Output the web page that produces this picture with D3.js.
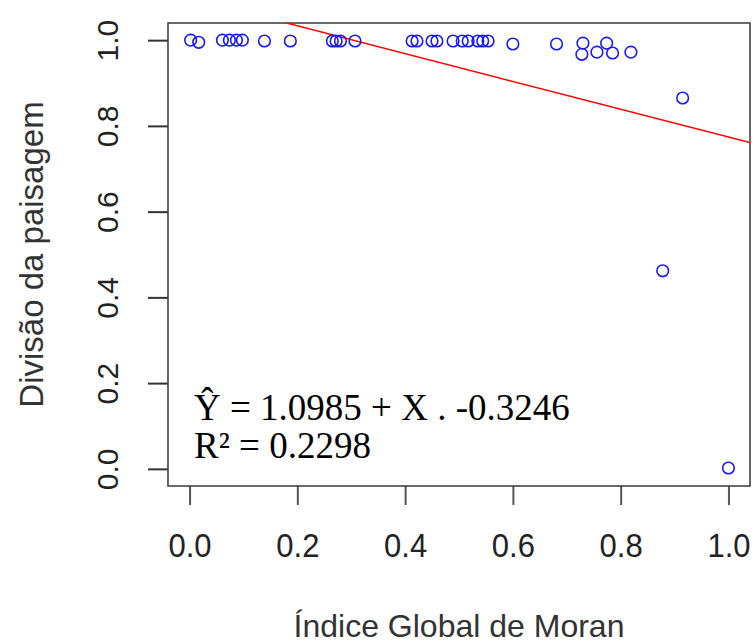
<!DOCTYPE html>
<html>
<head>
<meta charset="utf-8">
<script src="https://cdn.jsdelivr.net/npm/d3@7"></script>
<style>
html,body{margin:0;padding:0;background:#fff;}
svg{display:block;}
</style>
</head>
<body>
<svg id="chart" width="754" height="643"></svg>
<script>
// Índice Global de Moran (x) vs Divisão da paisagem (y)
const moranX = [0.002, 0.017, 0.061, 0.074, 0.087, 0.098, 0.139, 0.187, 0.265, 0.272, 0.280, 0.307,
  0.413, 0.422, 0.450, 0.459, 0.489, 0.506, 0.517, 0.535, 0.544, 0.554, 0.600, 0.681,
  0.730, 0.728, 0.756, 0.774, 0.785, 0.819, 0.915, 0.878, 1.000];
const divisaoY = [1.000, 0.995, 1.000, 1.000, 1.000, 1.000, 0.998, 0.998, 0.998, 0.998, 0.998, 0.998,
  0.998, 0.998, 0.998, 0.998, 0.998, 0.998, 0.998, 0.998, 0.998, 0.998, 0.991, 0.991,
  0.993, 0.967, 0.972, 0.993, 0.970, 0.972, 0.865, 0.462, 0.002];
const xTicks = [0.0, 0.2, 0.4, 0.6, 0.8, 1.0];
const yTicks = [0.0, 0.2, 0.4, 0.6, 0.8, 1.0];
const intercept = 1.0985;
const slope = -0.3246;
const eqText = "Ŷ = 1.0985 + X . -0.3246";
const r2Text = "R² = 0.2298";
const xTitle = "Índice Global de Moran";
const yTitle = "Divisão da paisagem";

const svg = d3.select("#chart");
const L = 168, R = 750, T = 23, B = 486;
const x = d3.scaleLinear().domain([-0.04, 1.04]).range([L, R]);
const y = d3.scaleLinear().domain([-0.04, 1.04]).range([B, T]);

svg.append("defs").append("clipPath").attr("id", "clip")
  .append("rect").attr("x", L).attr("y", T).attr("width", R - L).attr("height", B - T);

// axes
const xAxis = svg.append("g").attr("transform", `translate(0,${B})`)
  .call(d3.axisBottom(x).tickValues(xTicks).tickSize(19).tickFormat(d3.format(".1f")));
xAxis.select(".domain").remove();
xAxis.selectAll(".tick line").attr("stroke", "#555").attr("stroke-width", 2);
xAxis.selectAll(".tick text").attr("y", 0).attr("dy", 0)
  .attr("transform", "translate(0,71) scale(1,1.08)")
  .attr("font-family", "'Liberation Sans', Arial, sans-serif")
  .attr("font-size", 31).attr("fill", "#222");

const yAxis = svg.append("g").attr("transform", `translate(${L},0)`)
  .call(d3.axisLeft(y).tickValues(yTicks).tickSize(20).tickFormat(d3.format(".1f")));
yAxis.select(".domain").remove();
yAxis.selectAll(".tick line").attr("stroke", "#333").attr("stroke-width", 2);
yAxis.selectAll(".tick text")
  .attr("x", 0).attr("dy", 0)
  .attr("transform", "translate(-50,0) rotate(-90)")
  .attr("text-anchor", "middle")
  .attr("font-family", "'Liberation Sans', Arial, sans-serif")
  .attr("font-size", 30).attr("fill", "#222");

// box
svg.append("rect").attr("x", L).attr("y", T).attr("width", R - L).attr("height", B - T)
  .attr("fill", "none").attr("stroke", "#444").attr("stroke-width", 1.6);

// regression line
svg.append("line")
  .attr("clip-path", "url(#clip)")
  .attr("x1", x(-0.04)).attr("y1", y(intercept + slope * -0.04))
  .attr("x2", x(1.04)).attr("y2", y(intercept + slope * 1.04))
  .attr("stroke", "#ff0000").attr("stroke-width", 1.5);

// points
svg.append("g").selectAll("circle").data(d3.range(moranX.length)).join("circle")
  .attr("cx", i => x(moranX[i])).attr("cy", i => y(divisaoY[i]))
  .attr("r", 5.8).attr("fill", "none").attr("stroke", "#1a1aff").attr("stroke-width", 1.6);

// annotation
svg.append("text").attr("x", 194).attr("y", 420)
  .attr("font-family", "'Liberation Serif', 'Times New Roman', serif")
  .attr("font-size", 37).attr("fill", "#000").text(eqText);
svg.append("text").attr("x", 194).attr("y", 458)
  .attr("font-family", "'Liberation Serif', 'Times New Roman', serif")
  .attr("font-size", 37).attr("fill", "#000").text(r2Text);

// titles
svg.append("text").attr("x", (L + R) / 2).attr("y", 637).attr("text-anchor", "middle")
  .attr("font-family", "'Liberation Sans', Arial, sans-serif")
  .attr("font-size", 32).attr("fill", "#333").text(xTitle);
svg.append("text").attr("transform", `translate(43,${(T + B) / 2}) rotate(-90)`)
  .attr("text-anchor", "middle")
  .attr("font-family", "'Liberation Sans', Arial, sans-serif")
  .attr("font-size", 33).attr("fill", "#333").text(yTitle);
</script>
</body>
</html>
